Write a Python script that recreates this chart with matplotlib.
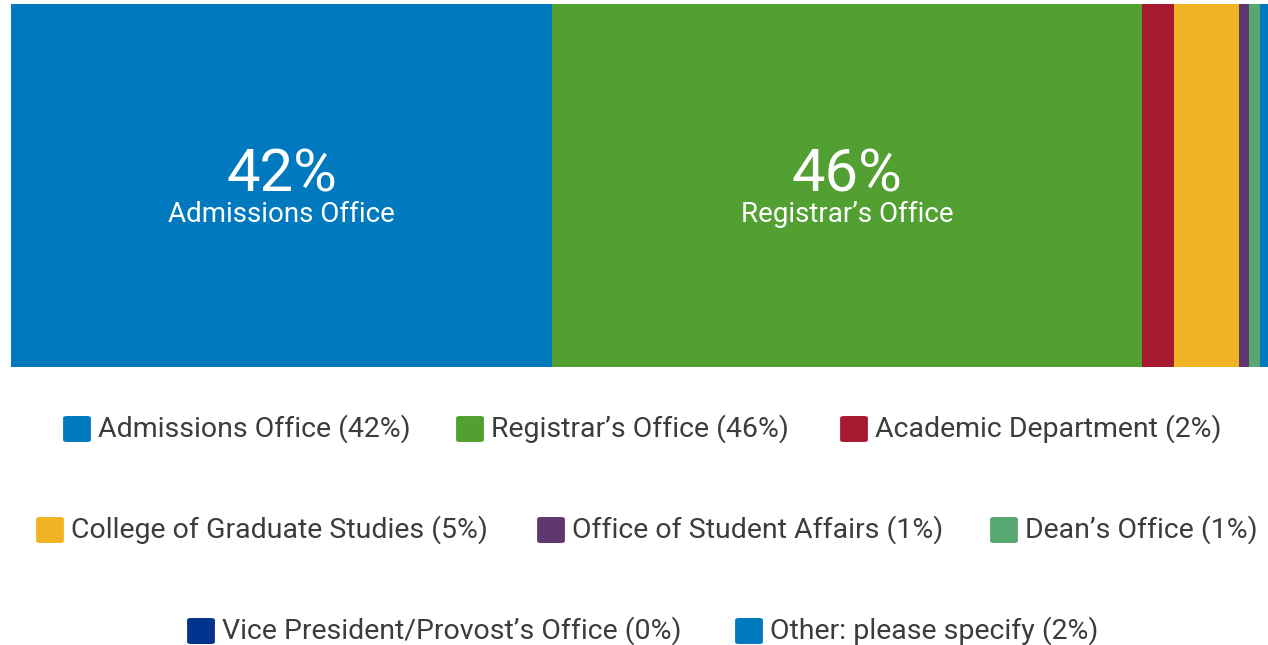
import matplotlib.pyplot as plt
from matplotlib.patches import FancyBboxPatch

plt.rcParams['font.family'] = ['Roboto', 'DejaVu Sans']

# share of responses (%)
categories = ["Admissions Office", "Registrar\u2019s Office", "Academic Department",
              "College of Graduate Studies", "Office of Student Affairs", "Dean\u2019s Office",
              "Vice President/Provost\u2019s Office", "Other: please specify"]
values = [42.4, 46.2, 2.5, 5.1, 0.8, 0.9, 0.0, 2.1]
labels_pct = [42, 46, 2, 5, 1, 1, 0, 2]
colors = ["#0079BE", "#52A032", "#A6192E", "#F0B323", "#5F366E", "#56A770", "#00338D", "#0079BE"]

W, H = 1268, 645
fig = plt.figure(figsize=(W / 100, H / 100), dpi=100)

# bar axis: starts at x=11px, bar runs off the right edge of the picture
ax = fig.add_axes([11 / W, 1 - 367 / H, 1 - 11 / W, 363 / H])
left = 0
for cat, v, c, p in zip(categories, values, colors, labels_pct):
    ax.barh(0, v, left=left, height=1, color=c, edgecolor="none")
    if v > 20:
        cx = left + v / 2
        ax.text(cx, 0.028, f"{p}%", color="white", fontsize=43, ha="center", va="center")
        ax.text(cx, -0.08, cat, color="white", fontsize=20, ha="center", va="center")
    left += v
ax.set_xlim(0, 98.5)
ax.set_ylim(-0.5, 0.5)
ax.axis("off")

# legend, three rows
rows = [[0, 1, 2], [3, 4, 5], [6, 7]]
row_y = [429, 530, 631]
row_x = [[63, 456, 840], [36, 537, 990], [187, 735]]
sq = 28
for idxs, y, xs in zip(rows, row_y, row_x):
    for i, x in zip(idxs, xs):
        box = FancyBboxPatch(((x + 2) / W, 1 - (y + sq / 2 - 2) / H), (sq - 4) / W, (sq - 4) / H,
                             boxstyle="round,pad=0.0015,rounding_size=0.003",
                             transform=fig.transFigure, facecolor=colors[i], edgecolor="none")
        fig.patches.append(box)
        fig.text((x + sq + 7) / W, 1 - y / H, f"{categories[i]} ({labels_pct[i]}%)",
                 fontsize=20.5, color="#3c3c3c", ha="left", va="center")

fig.savefig("out.png", dpi=100)
